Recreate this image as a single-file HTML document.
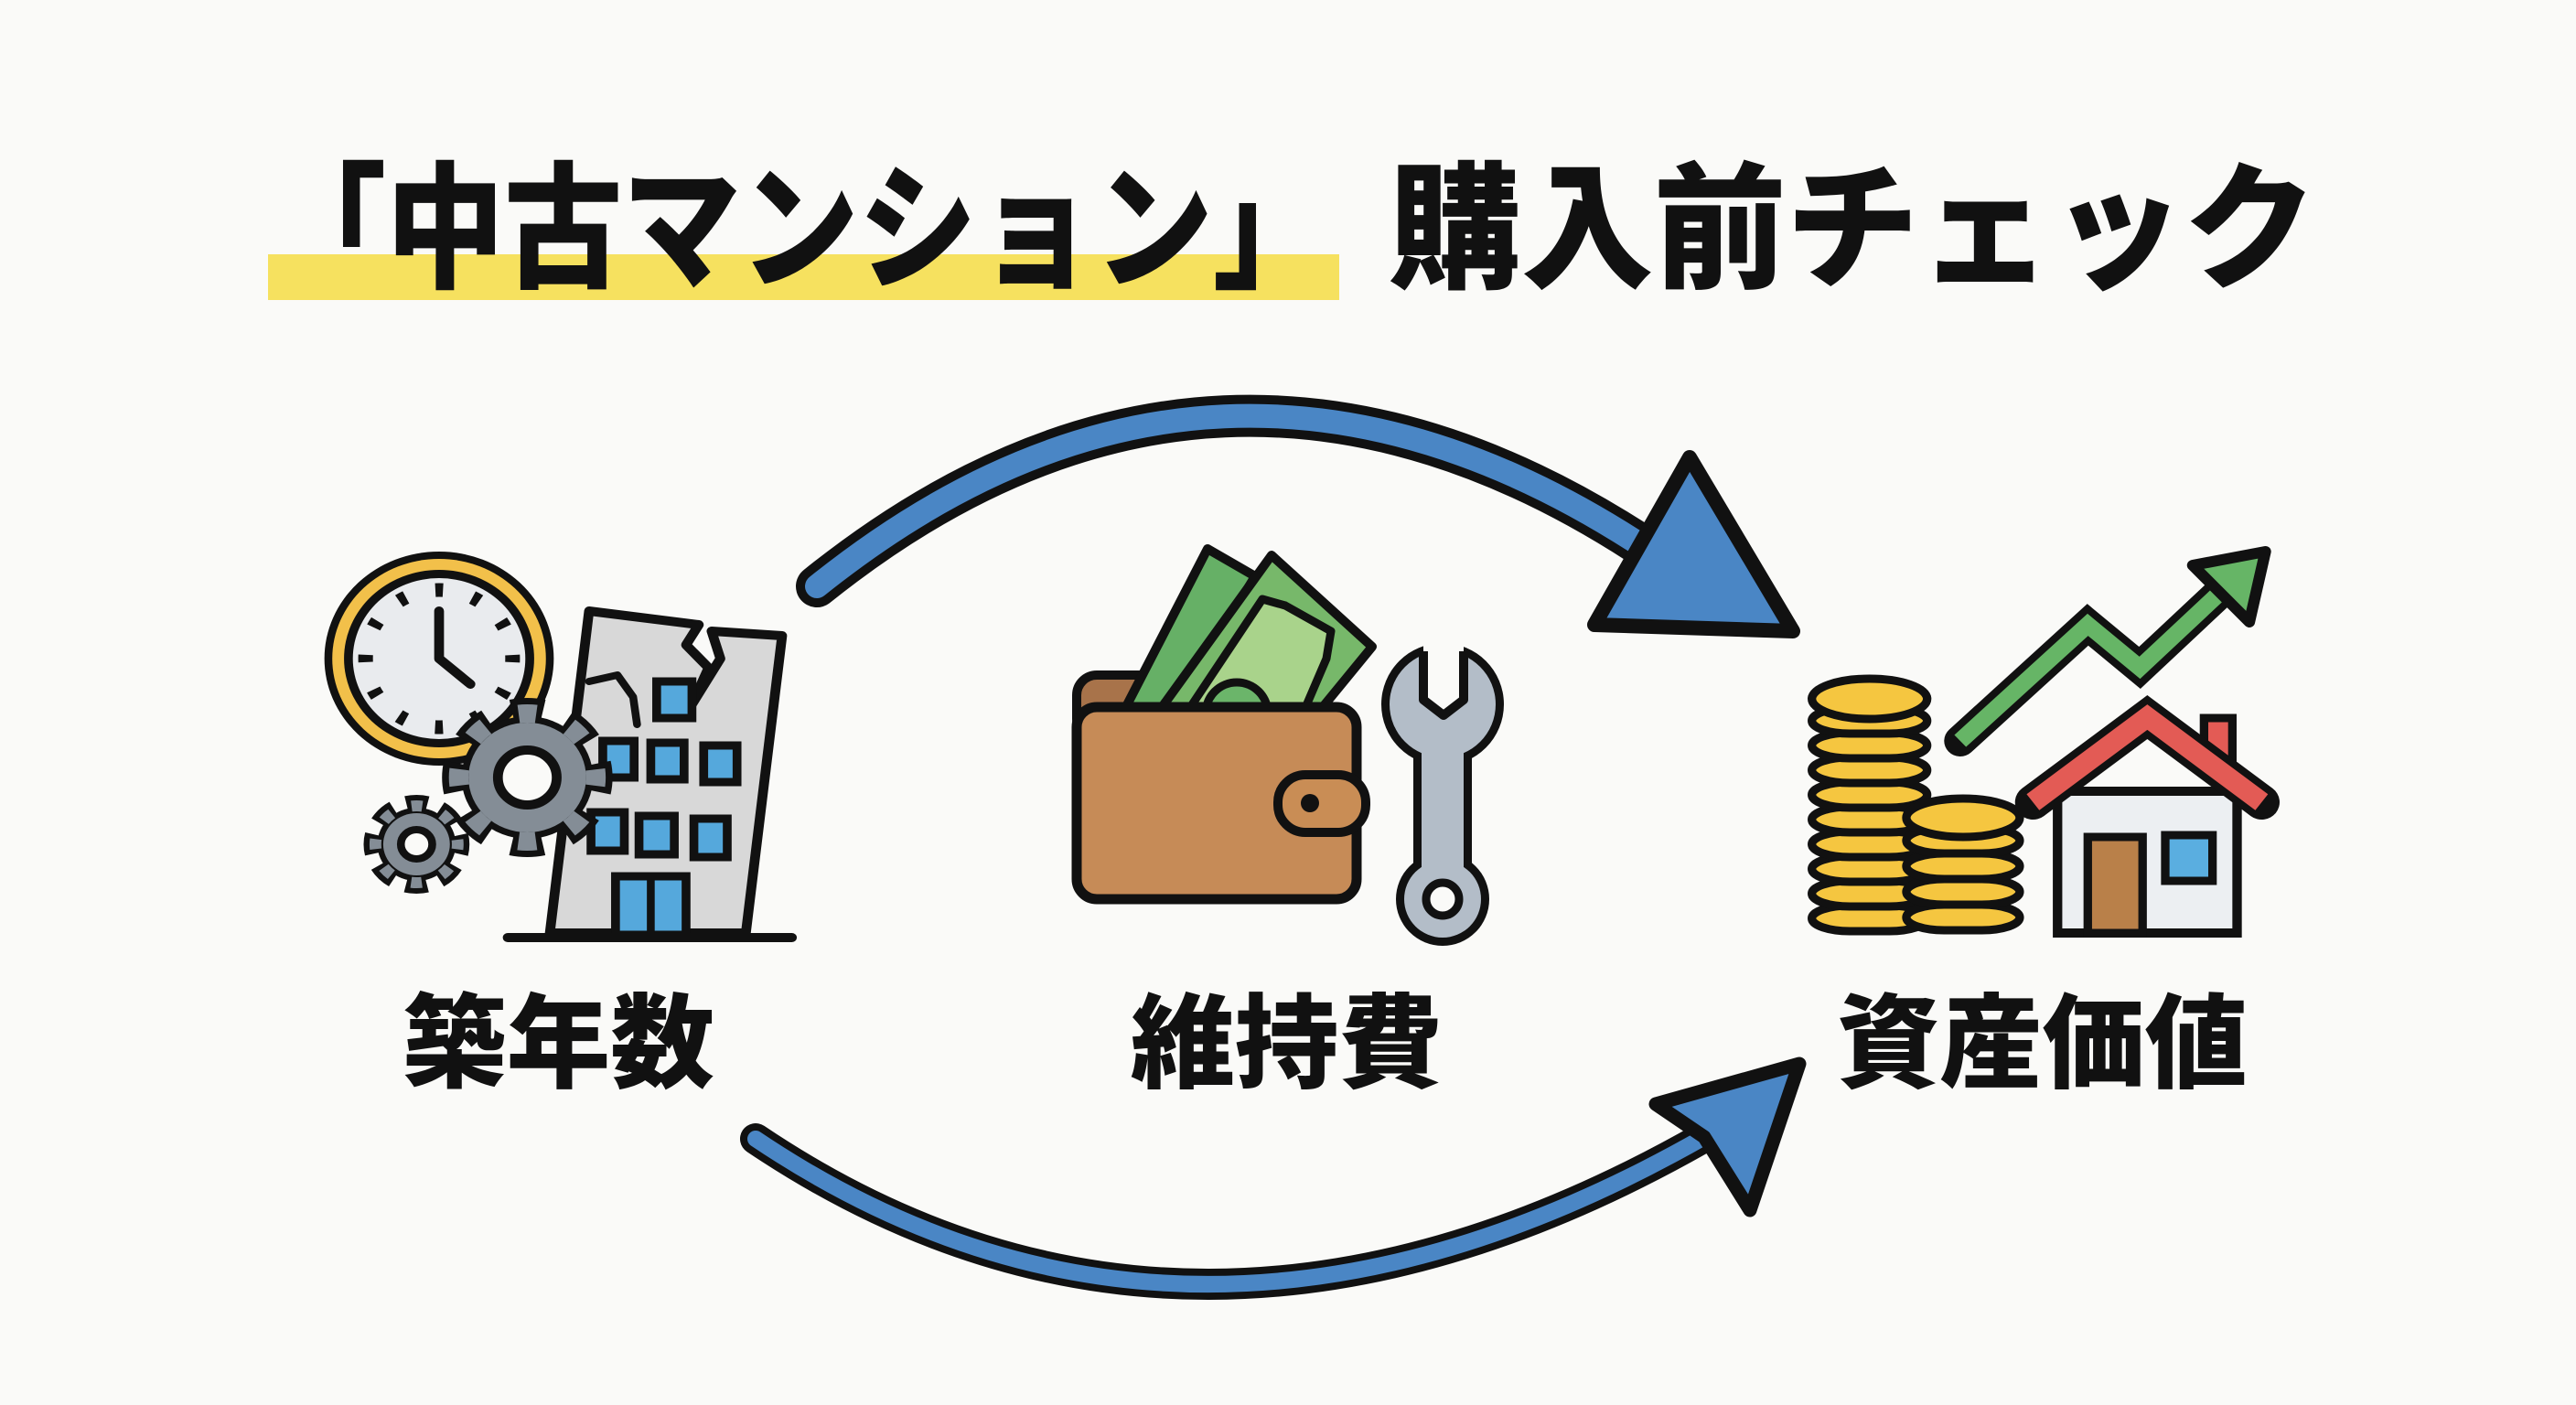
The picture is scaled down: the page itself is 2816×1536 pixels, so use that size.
<!DOCTYPE html>
<html><head><meta charset="utf-8"><style>
html,body{margin:0;padding:0;background:#fafaf8}
svg{display:block}
text{font-family:"Liberation Sans","Noto Sans CJK JP",sans-serif;font-weight:900;fill:#111}
</style></head><body>
<svg width="2816" height="1536" viewBox="0 0 2816 1536" xmlns="http://www.w3.org/2000/svg">
<rect width="2816" height="1536" fill="#fafaf8"/>
<!-- title -->
<rect x="293" y="278" width="1171" height="50" fill="#f6e15f"/>
<text x="293" y="303" font-size="150" textLength="1162" lengthAdjust="spacingAndGlyphs">「中古マンション」</text>
<text x="1518" y="303" font-size="150" textLength="1014" lengthAdjust="spacingAndGlyphs">購入前チェック</text>

<!-- top arrow -->
<path d="M893,641 Q1330,290 1800,600" fill="none" stroke="#111" stroke-width="46" stroke-linecap="round"/>
<path d="M893,641 Q1330,290 1800,600" fill="none" stroke="#4a86c5" stroke-width="26" stroke-linecap="round"/>
<polygon points="1743,683 1847,500 1960,690" fill="#4a86c5" stroke="#111" stroke-width="16" stroke-linejoin="round"/>
<!-- bottom arrow -->
<path d="M826,1245 Q1300,1564 1863,1243" fill="none" stroke="#111" stroke-width="34" stroke-linecap="round"/>
<path d="M826,1245 Q1300,1564 1863,1243" fill="none" stroke="#4a86c5" stroke-width="18" stroke-linecap="round"/>
<polygon points="1810,1207 1967,1163 1913,1323 1863,1243" fill="#4a86c5" stroke="#111" stroke-width="15" stroke-linejoin="round"/>

<g transform="translate(330,580) scale(1.0714,1) translate(-330,-580)">
<!-- clock -->
<circle cx="470" cy="720" r="117" fill="#111"/>
<circle cx="470" cy="720" r="109" fill="#f2c04a"/>
<circle cx="470" cy="720" r="97" fill="#111"/>
<circle cx="470" cy="720" r="88" fill="#e9ebee"/>
<circle cx="470" cy="720" r="75" fill="none" stroke="#111" stroke-width="15" stroke-dasharray="8 31.27" stroke-dashoffset="4" transform="rotate(-90 470 720)"/>
<polyline points="470,668 470,720 502,748" fill="none" stroke="#111" stroke-width="10" stroke-linecap="round" stroke-linejoin="round"/>

<!-- building -->
<polygon points="623,668 735,683 722,705 745,730 728,770 757,720 748,690 820,695 783,1020 583,1020" fill="#d8d8d8" stroke="#111" stroke-width="10" stroke-linejoin="round"/>
<polyline points="623,745 652,738 668,762 672,792" fill="none" stroke="#111" stroke-width="8" stroke-linecap="round" stroke-linejoin="round"/>
<g fill="#55a8dc" stroke="#111" stroke-width="9">
<rect x="692" y="745" width="36" height="40"/>
<rect x="637" y="810" width="32" height="40"/>
<rect x="686" y="812" width="34" height="40"/>
<rect x="740" y="815" width="34" height="40"/>
<rect x="625" y="888" width="34" height="42"/>
<rect x="674" y="892" width="36" height="42"/>
<rect x="730" y="895" width="34" height="42"/>
<rect x="650" y="958" width="72" height="64"/>
</g>
<line x1="686" y1="962" x2="686" y2="1020" stroke="#111" stroke-width="8"/>
<line x1="540" y1="1025" x2="830" y2="1025" stroke="#111" stroke-width="10" stroke-linecap="round"/>

<!-- big gear -->
<circle cx="560" cy="850" r="70" fill="none" stroke="#111" stroke-width="34" stroke-dasharray="30 24.98" stroke-dashoffset="15"/>
<circle cx="560" cy="850" r="67" fill="#111"/>
<circle cx="560" cy="850" r="70" fill="none" stroke="#848d96" stroke-width="20" stroke-dasharray="18 36.98" stroke-dashoffset="9"/>
<circle cx="560" cy="850" r="60" fill="#848d96"/>
<circle cx="560" cy="850" r="30" fill="#fafaf8" stroke="#111" stroke-width="10"/>
<!-- small gear -->
<circle cx="447" cy="923" r="42" fill="none" stroke="#111" stroke-width="24" stroke-dasharray="20 12.99" stroke-dashoffset="10"/>
<circle cx="447" cy="923" r="40" fill="#111"/>
<circle cx="447" cy="923" r="42" fill="none" stroke="#848d96" stroke-width="12" stroke-dasharray="11 21.99" stroke-dashoffset="5.5"/>
<circle cx="447" cy="923" r="34" fill="#848d96"/>
<circle cx="447" cy="923" r="16" fill="#fafaf8" stroke="#111" stroke-width="8"/>
</g>

<!-- wallet -->
<rect x="1177" y="738" width="110" height="70" rx="22" fill="#a8734a" stroke="#111" stroke-width="10"/>
<polygon points="1222,790 1320,600 1372,630 1275,790" fill="#66b066" stroke="#111" stroke-width="10" stroke-linejoin="round"/>
<polygon points="1258,790 1390,607 1500,707 1432,790" fill="#77b86a" stroke="#111" stroke-width="10" stroke-linejoin="round"/>
<polygon points="1290,790 1380,655 1405,662 1455,690 1450,720 1420,790" fill="#a9d38b" stroke="#111" stroke-width="9" stroke-linejoin="round"/>
<circle cx="1352" cy="780" r="34" fill="#6bb56a" stroke="#111" stroke-width="9"/>
<rect x="1177" y="773" width="306" height="210" rx="22" fill="#c68b57" stroke="#111" stroke-width="11"/>
<rect x="1397" y="847" width="96" height="63" rx="30" fill="#c98d55" stroke="#111" stroke-width="10"/>
<circle cx="1432" cy="878" r="10" fill="#111"/>

<!-- wrench -->
<g fill="#111">
<circle cx="1577" cy="770" r="67"/>
<rect x="1545" y="780" width="64" height="180"/>
<circle cx="1577" cy="983" r="51"/>
</g>
<g fill="#b3bdc8">
<circle cx="1577" cy="770" r="58"/>
<rect x="1554" y="780" width="46" height="180"/>
<circle cx="1577" cy="983" r="42"/>
</g>
<polygon points="1556,690 1556,765 1578,782 1600,765 1600,690" fill="#fafaf8"/>
<polyline points="1556,712 1556,765 1578,782 1600,765 1600,712" fill="none" stroke="#111" stroke-width="10" stroke-linejoin="round"/>
<circle cx="1577" cy="983" r="18" fill="#fafaf8" stroke="#111" stroke-width="9"/>

<g transform="translate(1960,580) scale(1.033,1) translate(-1960,-580)">
<g fill="#f5c640" stroke="#111" stroke-width="9">
<rect x="1980" y="990" width="122" height="28" rx="40" ry="14"/>
<rect x="1980" y="963" width="122" height="28" rx="40" ry="14"/>
<rect x="1980" y="936" width="122" height="28" rx="40" ry="14"/>
<rect x="1980" y="909" width="122" height="28" rx="40" ry="14"/>
<rect x="1980" y="882" width="122" height="28" rx="40" ry="14"/>
<rect x="1980" y="855" width="122" height="28" rx="40" ry="14"/>
<rect x="1980" y="828" width="122" height="28" rx="40" ry="14"/>
<rect x="1980" y="801" width="122" height="28" rx="40" ry="14"/>
<rect x="1980" y="774" width="122" height="28" rx="40" ry="14"/>
<ellipse cx="2041" cy="764" rx="61" ry="22"/>
<rect x="2080" y="989" width="120" height="28" rx="40" ry="14"/>
<rect x="2080" y="961" width="120" height="28" rx="40" ry="14"/>
<rect x="2080" y="933" width="120" height="28" rx="40" ry="14"/>
<rect x="2080" y="905" width="120" height="28" rx="40" ry="14"/>
<ellipse cx="2140" cy="894" rx="60" ry="21"/>
</g>

<polyline points="2137,810 2272,683 2327,730 2420,640" fill="none" stroke="#111" stroke-width="34" stroke-linejoin="miter" stroke-linecap="round"/>
<polyline points="2137,810 2272,683 2327,730 2420,640" fill="none" stroke="#66b566" stroke-width="18" stroke-linejoin="miter" stroke-linecap="butt"/>
<polygon points="2383,618 2460,603 2443,680" fill="#66b566" stroke="#111" stroke-width="12" stroke-linejoin="round"/>

<rect x="2395" y="785" width="30" height="60" fill="#e35b55" stroke="#111" stroke-width="9"/>
<rect x="2240" y="865" width="190" height="155" fill="#eceff2" stroke="#111" stroke-width="10"/>
<polyline points="2214,877 2335,784 2456,877" fill="none" stroke="#111" stroke-width="38" stroke-linejoin="miter" stroke-linecap="round"/>
<polyline points="2214,877 2335,784 2456,877" fill="none" stroke="#e35b55" stroke-width="22" stroke-linejoin="miter"/>
<rect x="2272" y="915" width="58" height="105" fill="#b98049" stroke="#111" stroke-width="9"/>
<rect x="2354" y="913" width="50" height="50" fill="#5aaee0" stroke="#111" stroke-width="9"/>
</g>

<!-- labels -->
<text x="440" y="1180" font-size="112" textLength="341" lengthAdjust="spacingAndGlyphs">築年数</text>
<text x="1236" y="1180" font-size="112" textLength="341" lengthAdjust="spacingAndGlyphs">維持費</text>
<text x="2008" y="1180" font-size="112" textLength="449" lengthAdjust="spacingAndGlyphs">資産価値</text>
</svg>
</body></html>
